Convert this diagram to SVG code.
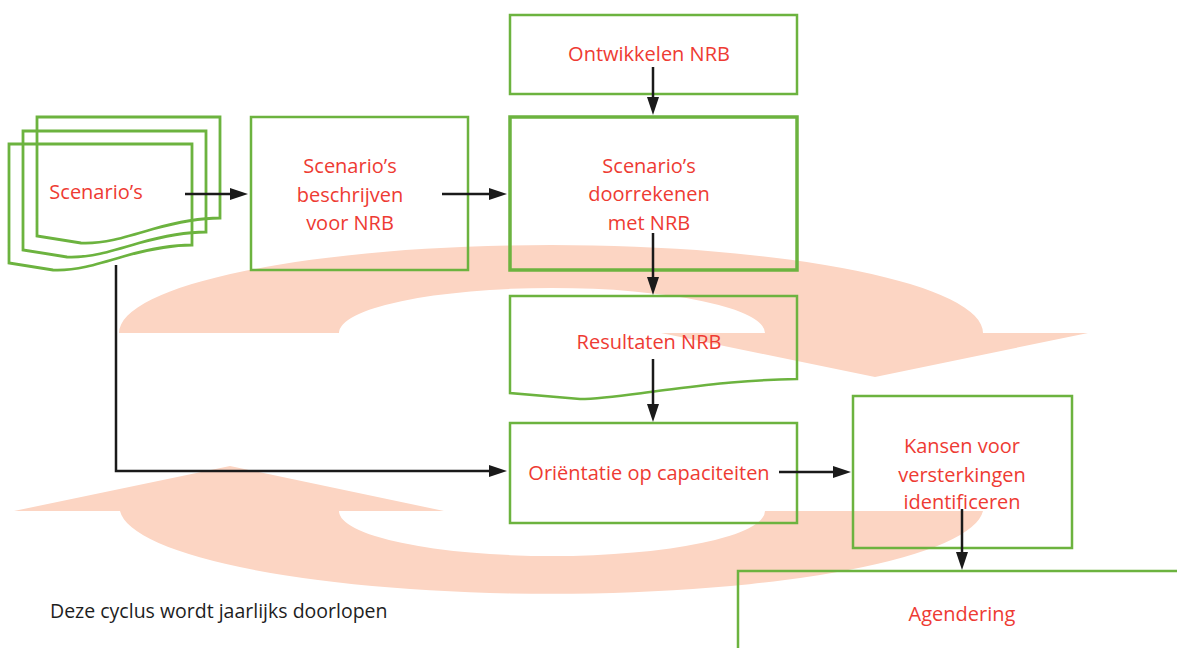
<svg xmlns="http://www.w3.org/2000/svg" width="1177" height="648" viewBox="0 0 1177 648">
  <style>
    .box { fill: none; stroke: #6CB33F; stroke-width: 2.5; }
    .thick { stroke-width: 3.5; }
    .doc { fill: none; stroke: #6CB33F; stroke-width: 2.8; stroke-linejoin: miter; }
    .lbl { font-family: "Open Sans", "Noto Sans", sans-serif; font-size: 20px; fill: #EE3B33; text-anchor: middle; }
    .note { font-family: "Open Sans", "Noto Sans", sans-serif; font-size: 19.5px; fill: #1E1E1E; }
    .arc { fill: #FCD5C3; stroke: none; }
    .con { fill: none; stroke: #1A1A1A; stroke-width: 2.5; marker-end: url(#ah); }
  </style>
  <defs>
    <marker id="ah" markerUnits="userSpaceOnUse" markerWidth="18" markerHeight="12" refX="8" refY="6" orient="auto">
      <path d="M0,0 L18,6 L0,12 z" fill="#1A1A1A"/>
    </marker>
  </defs>
  <rect width="1177" height="648" fill="#FFFFFF"/>

  <g id="cycle">
    <path class="arc" d="M119,333 A432,88 0 0 1 983,333 L1088,333 L875,377 L661,333 L765,333 A213,45 0 0 0 339,333 Z"/>
    <path class="arc" d="M14,511 L230,466 L444,511 L339,511 A213,45 0 0 0 765,511 L983,511 A432,87 0 0 1 120,511 Z"/>
  </g>

  <g id="scenarios">
    <path class="doc" transform="translate(28,-27)" d="M9,144 H192 V245 C170,245 150,249 125,256 C95,265 75,271 53,270 L9,263 Z"/>
    <path class="doc" transform="translate(14,-13)" d="M9,144 H192 V245 C170,245 150,249 125,256 C95,265 75,271 53,270 L9,263 Z"/>
    <path class="doc" d="M9,144 H192 V245 C170,245 150,249 125,256 C95,265 75,271 53,270 L9,263 Z"/>
    <text class="lbl" x="96" y="199">Scenario’s</text>
  </g>

  <g id="beschrijven">
    <rect class="box" x="251" y="117" width="217" height="153"/>
    <text class="lbl" x="350" y="173">Scenario’s</text>
    <text class="lbl" x="350" y="202">beschrijven</text>
    <text class="lbl" x="350" y="230">voor NRB</text>
  </g>

  <g id="ontwikkelen">
    <rect class="box" x="510" y="15" width="287" height="79"/>
    <text class="lbl" x="649" y="61">Ontwikkelen NRB</text>
  </g>

  <g id="doorrekenen">
    <rect class="box thick" x="510" y="117" width="287" height="153"/>
    <text class="lbl" x="649" y="173">Scenario’s</text>
    <text class="lbl" x="649" y="201">doorrekenen</text>
    <text class="lbl" x="649" y="230">met NRB</text>
  </g>

  <g id="resultaten">
    <path class="box" d="M510,296 H797 V379 C740,380 700,386 650,392 C620,396 600,399 580,399 L510,393 Z"/>
    <text class="lbl" x="649" y="349">Resultaten NRB</text>
  </g>

  <g id="orientatie">
    <rect class="box" x="510" y="423" width="287" height="100"/>
    <text class="lbl" x="649" y="480">Oriëntatie op capaciteiten</text>
  </g>

  <g id="kansen">
    <rect class="box" x="853" y="396" width="219" height="152"/>
    <text class="lbl" x="962" y="453">Kansen voor</text>
    <text class="lbl" x="962" y="482">versterkingen</text>
    <text class="lbl" x="962" y="509">identificeren</text>
  </g>

  <g id="agendering">
    <rect class="box" x="738" y="571" width="460" height="100"/>
    <text class="lbl" x="962" y="621">Agendering</text>
  </g>

  <g id="connectors">
    <line class="con" x1="185" y1="194" x2="238" y2="194"/>
    <line class="con" x1="442" y1="194" x2="497" y2="194"/>
    <line class="con" x1="653" y1="67" x2="653" y2="105"/>
    <line class="con" x1="653" y1="233" x2="653" y2="285"/>
    <line class="con" x1="653" y1="359" x2="653" y2="412"/>
    <polyline class="con" points="116,265 116,471 497,471"/>
    <line class="con" x1="779" y1="472" x2="841" y2="472"/>
    <line class="con" x1="962" y1="509" x2="962" y2="560"/>
  </g>

  <text class="note" x="50" y="618">Deze cyclus wordt jaarlijks doorlopen</text>
</svg>
